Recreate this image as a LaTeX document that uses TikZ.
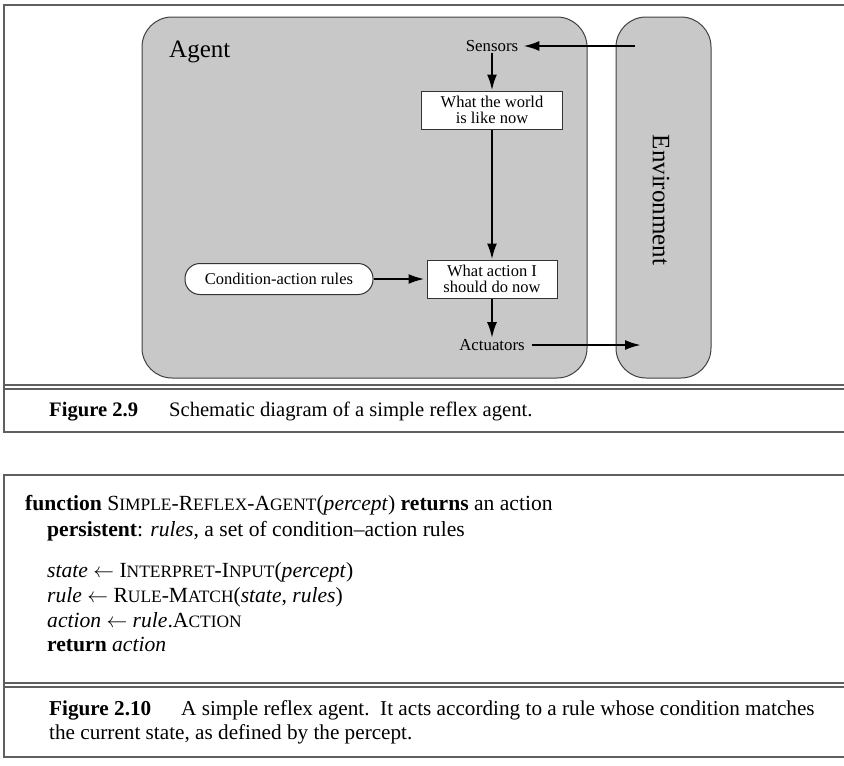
\documentclass[tikz,border=0pt]{standalone}
\usepackage{fontspec}
\setmainfont{Liberation Serif}
\usetikzlibrary{arrows.meta}
\definecolor{agentgray}{RGB}{200,200,200}
\definecolor{framegray}{RGB}{95,95,95}
\newcommand\smc[1]{{\fontsize{17.4}{18}\selectfont #1}}
\tikzset{
  frameline/.style={draw=framegray, line width=1.3},
  panel/.style={draw=black!75, fill=agentgray, line width=1, rounded corners=30},
  lbl/.style={font=\fontsize{16.8}{18}\selectfont, inner sep=1},
  boxnode/.style={draw=black!80, fill=white, line width=1, align=center, font=\fontsize{16.5}{16.5}\selectfont, inner sep=1},
  arr/.style={line width=2.3, -{Latex[length=16,width=10]}},
  txt/.style={anchor=base west, inner sep=0, font=\fontsize{21.6}{24}\selectfont},
  captxt/.style={anchor=base west, inner sep=0, font=\fontsize{21.2}{24}\selectfont},
  captxtA/.style={anchor=base west, inner sep=0, font=\fontsize{20.6}{24}\selectfont},
}
\begin{document}
\begin{tikzpicture}[x=1pt,y=-1pt]
\useasboundingbox (0,0) rectangle (844,766);
% ---- frame 1
\draw[frameline] (844,5) -- (4,5) -- (4,432) -- (844,432);
\draw[frameline] (4,385) -- (844,385);
\draw[frameline] (4,389) -- (844,389);
% ---- panels
\path[panel] (142,17) rectangle (587,378);
\path[panel] (616,17) rectangle (711,378);
\node[anchor=base west, inner sep=0, font=\fontsize{25}{28}\selectfont] (agent) at (169,57) {Agent};
\node[rotate=-90, inner sep=0, font=\fontsize{25}{28}\selectfont] (env) at (661,200) {Environment};
% ---- nodes
\node[lbl] (sensors) at (492,46) {Sensors};
\node[boxnode, minimum width=141, minimum height=38] (world) at (492,110) {What the world\\is like now};
\node[boxnode, minimum width=130, minimum height=38] (action) at (492,279) {What action I\\should do now};
\node[boxnode, rounded corners=15, minimum width=188, minimum height=31] (rules) at (279,279) {Condition-action rules};
\node[lbl] (actuators) at (492,345) {Actuators};
\coordinate (envin) at (635,46);
\coordinate (envout) at (641,347);
% ---- connectors
\draw[arr] (envin |- sensors.east) -- ([xshift=4]sensors.east);
\draw[arr] (sensors.south) -- (world.north);
\draw[arr] (world.south) -- (action.north);
\draw[arr] (rules.east) -- ([xshift=-2]action.west);
\draw[arr] (action.south) -- (actuators.north);
\draw[arr] ([xshift=6]actuators.east) -- (envout |- actuators.east);
% ---- caption 1
\node[captxtA] (cap1a) at (49,416) {\bfseries Figure 2.9};
\node[captxtA] (cap1b) at (169,416) {Schematic diagram of a simple reflex agent.};
% ---- frame 2
\draw[frameline] (844,475) -- (4,475) -- (4,757) -- (844,757);
\draw[frameline] (4,683) -- (844,683);
\draw[frameline] (4,687) -- (844,687);
\node[txt] (l1) at (25,510) {\textbf{function} S\smc{IMPLE}-R\smc{EFLEX}-A\smc{GENT}(\textit{percept}) \textbf{returns} an action};
\node[txt] (l2) at (47,536) {\textbf{persistent}: \textit{rules}, a set of condition--action rules};
\node[txt] (l3) at (47,577) {\textit{state} $\leftarrow$ I\smc{NTERPRET}-I\smc{NPUT}(\textit{percept})};
\node[txt] (l4) at (47,602) {\textit{rule} $\leftarrow$ R\smc{ULE}-M\smc{ATCH}(\textit{state}, \textit{rules})};
\node[txt] (l5) at (47,627) {\textit{action} $\leftarrow$ \textit{rule}.A\smc{CTION}};
\node[txt] (l6) at (47,651) {\textbf{return} \textit{action}};
\node[captxt] (cap2a) at (49,715) {\bfseries Figure 2.10};
\node[captxt] (cap2b) at (181,715) {A simple reflex agent.\ \ It acts according to a rule whose condition matches};
\node[captxt] (cap2c) at (49,739) {the current state, as defined by the percept.};
\end{tikzpicture}
\end{document}
